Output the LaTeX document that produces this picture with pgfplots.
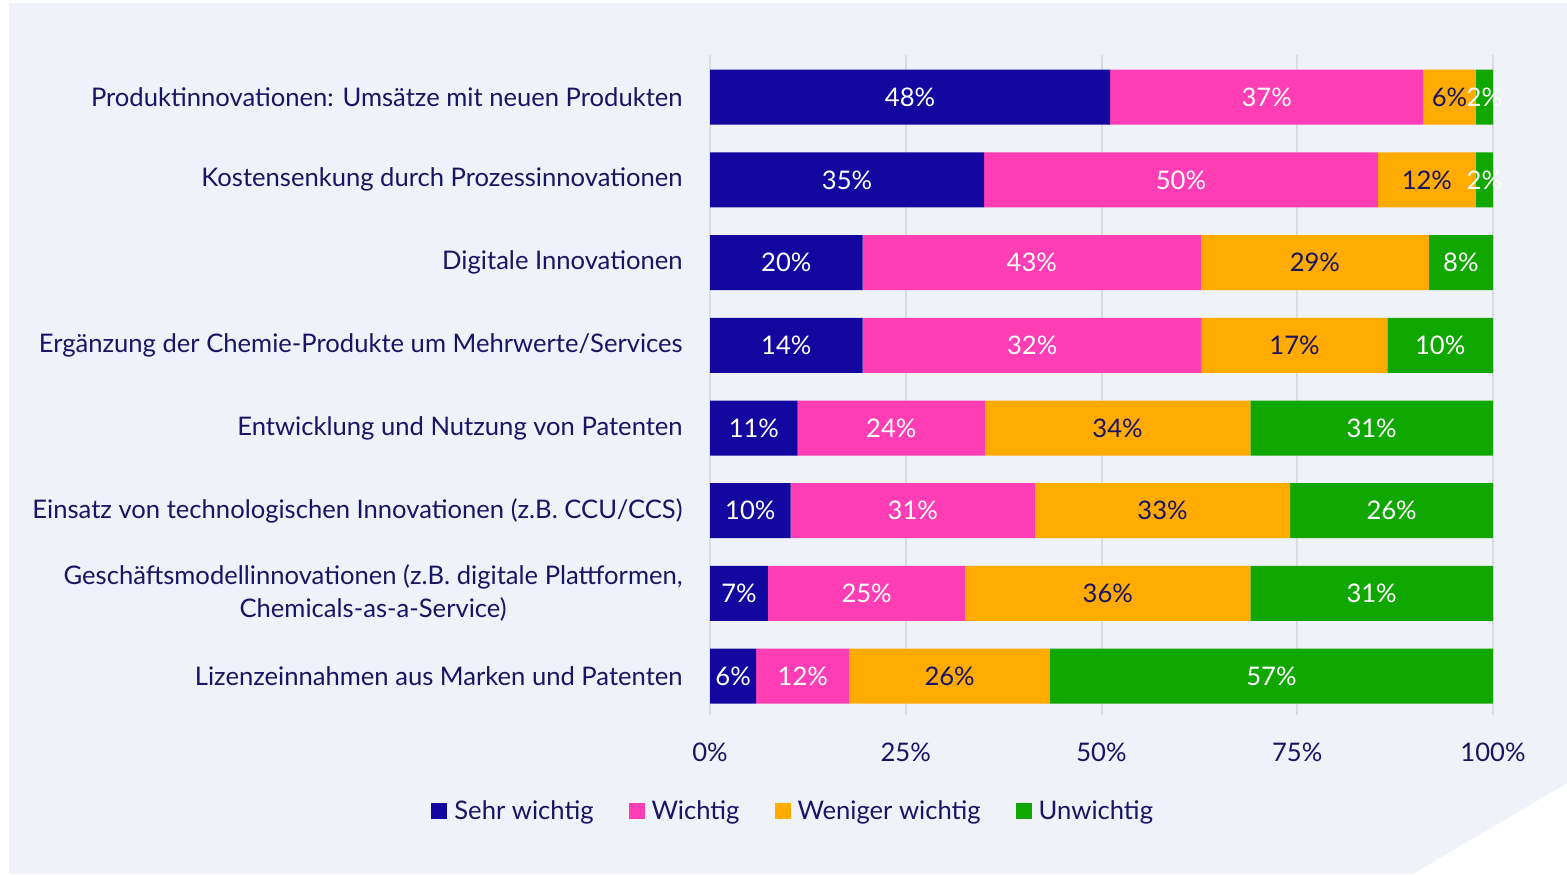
\documentclass[border=0pt]{standalone}
\usepackage{fontspec}
\setmainfont{Lato}
\usepackage{pgfplots}
\pgfplotsset{compat=1.18}
\usepackage{pgfplotstable}
\definecolor{bgc}{HTML}{EFF2F8}
\definecolor{cblue}{HTML}{12079E}
\definecolor{cpink}{HTML}{FF3DB4}
\definecolor{corange}{HTML}{FFAB00}
\definecolor{cgreen}{HTML}{10A800}
\definecolor{navy}{HTML}{1A1464}
\definecolor{gridc}{HTML}{D9DCE2}

\pgfplotstableread{
y blue pink orange green
7 51.1 40.0 6.7 2.2
6 35.0 50.3 12.5 2.2
5 19.5 43.2 29.1 8.2
4 19.5 43.3 23.7 13.5
3 11.2 23.9 33.9 31.0
2 10.3 31.2 32.6 25.9
1 7.4 25.2 36.4 31.0
0 5.9 11.9 25.6 56.6
}\bars

\pgfplotstableread{
y xb lb xp lp xo lo xg lg
7 25.55 48 71.10 37 94.45 6 98.9 2
6 17.50 35 60.15 50 91.55 12 98.9 2
5 9.75 20 41.10 43 77.25 29 95.9 8
4 9.75 14 41.15 32 74.65 17 93.25 10
3 5.60 11 23.15 24 52.05 34 84.5 31
2 5.15 10 25.90 31 57.80 33 87.05 26
1 3.70 7 20.00 25 50.80 36 84.5 31
0 2.95 6 11.85 12 30.60 26 71.7 57
}\labels

\newcommand{\fs}{\fontsize{12.8}{16.5}\selectfont}

\begin{document}
\begin{tikzpicture}
\fill[bgc] (4.5pt,-1.5pt) -- (783.5pt,-1.5pt) -- (783.5pt,-391.5pt) -- (706.5pt,-437pt) -- (4.5pt,-437pt) -- cycle;
\path (0,0) rectangle (783.5pt,-437pt);
\begin{axis}[
  at={(355pt,-357.5pt)}, anchor=south west,
  scale only axis, width=391.5pt, height=330pt,
  xbar stacked, bar width=27.5pt,
  legend image code/.code={\fill[#1,draw=none] (0pt,-4pt) rectangle (8pt,4pt);},
  xmin=0, xmax=100, ymin=-0.47, ymax=7.51,
  axis line style={draw=none},
  major tick length=0pt,
  xtick={0,25,50,75,100},
  xticklabels={0\%,25\%,50\%,75\%,100\%},
  ytick={0,1,2,3,4,5,6,7},
  yticklabels={
    Lizenzeinnahmen aus Marken und Patenten,
    {Geschäftsmodellinnovationen (z.B. digitale Plattformen,\\Chemicals-as-a-Service)},
    Einsatz von technologischen Innovationen (z.B. CCU/CCS),
    Entwicklung und Nutzung von Patenten,
    Ergänzung der Chemie-Produkte um Mehrwerte/Services,
    Digitale Innovationen,
    Kostensenkung durch Prozessinnovationen,
    {Produktinnovationen: Umsätze mit neuen Produkten}},
  yticklabel style={align=center, inner xsep=0pt, font=\fs, text=navy},
  yticklabel shift=13.5pt,
  xticklabel style={anchor=base, inner sep=0pt, font=\fs, text=navy},
  xticklabel shift=23pt,
  xmajorgrids, major grid style={gridc, line width=1pt},
  legend style={draw=none, fill=none, legend columns=4,
    at={(axis description cs:0.105,-0.146)}, anchor=center,
    font=\fs, text=navy, nodes={inner xsep=0pt},
    /tikz/every odd column/.append style={column sep=3.5pt},
    /tikz/every even column/.append style={column sep=17.5pt}},
  legend cell align=left,
]
\addplot[fill=cblue, draw=none] table[x=blue, y=y] {\bars};
\addplot[fill=cpink, draw=none] table[x=pink, y=y] {\bars};
\addplot[fill=corange, draw=none] table[x=orange, y=y] {\bars};
\addplot[fill=cgreen, draw=none] table[x=green, y=y] {\bars};
\legend{Sehr wichtig, Wichtig, Weniger wichtig, Unwichtig}
\end{axis}
\begin{axis}[
  at={(355pt,-357.5pt)}, anchor=south west,
  scale only axis, width=391.5pt, height=330pt,
  xmin=0, xmax=100, ymin=-0.47, ymax=7.51,
  hide axis, clip=false,
  nodes near coords={\pgfplotspointmeta\%},
  point meta=explicit symbolic,
  every node near coord/.append style={anchor=center, font=\fs, inner sep=0pt},
]
\addplot[only marks, mark=none, nodes near coords style={text=white}] table[x=xb, y=y, meta=lb] {\labels};
\addplot[only marks, mark=none, nodes near coords style={text=white}] table[x=xp, y=y, meta=lp] {\labels};
\addplot[only marks, mark=none, nodes near coords style={text=navy}] table[x=xo, y=y, meta=lo] {\labels};
\addplot[only marks, mark=none, nodes near coords style={text=white}] table[x=xg, y=y, meta=lg] {\labels};
\end{axis}
\end{tikzpicture}
\end{document}
